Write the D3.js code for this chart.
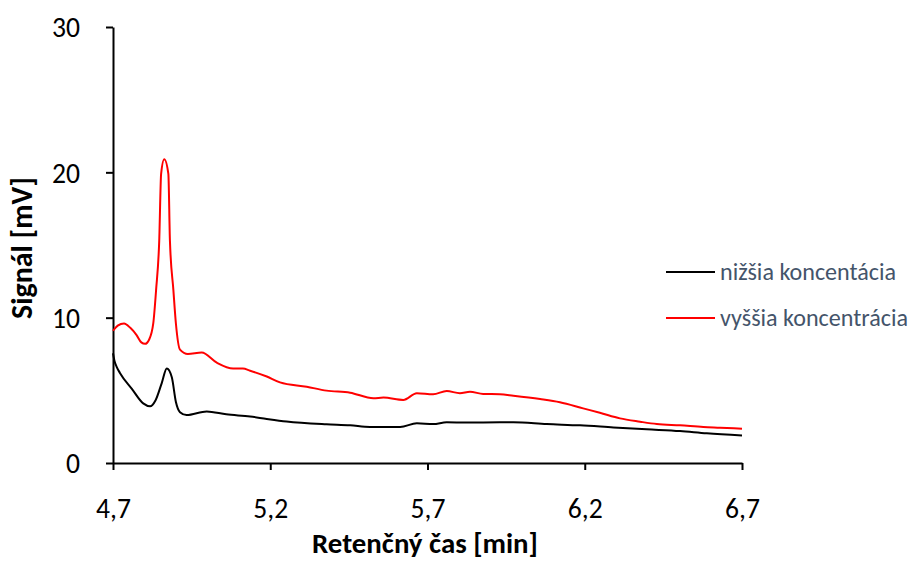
<!DOCTYPE html>
<html><head><meta charset="utf-8">
<script src="https://cdn.jsdelivr.net/npm/d3@7"></script>
<style>body{margin:0;background:#fff}svg{display:block}</style>
</head><body>
<svg id="c" width="913" height="565"></svg>
<script>
const xTicks = [4.7, 5.2, 5.7, 6.2, 6.7];
const yTicks = [0, 10, 20, 30];
const seriesNames = ["nižšia koncentácia", "vyššia koncentrácia"];
const seriesColors = ["#000000", "#ff0000"];
const lowT = [4.700,4.705,4.712,4.722,4.760,4.796,4.818,4.835,4.855,4.871,4.887,4.900,4.913,4.934,4.998,5.060,5.136,5.189,5.252,5.379,5.454,5.517,5.613,5.666,5.718,5.761,5.824,5.930,5.973,6.079,6.185,6.291,6.397,6.503,6.588,6.700];
const lowV = [7.55,7.0,6.6,6.2,5.1,4.1,3.9,4.3,5.5,6.5,5.9,4.2,3.5,3.3,3.55,3.35,3.2,3.03,2.85,2.66,2.59,2.48,2.48,2.73,2.68,2.8,2.78,2.8,2.8,2.68,2.59,2.45,2.32,2.2,2.04,1.9];
const highT = [4.700,4.715,4.735,4.755,4.775,4.790,4.802,4.815,4.828,4.837,4.847,4.853,4.863,4.876,4.881,4.892,4.900,4.913,4.938,4.982,5.030,5.082,5.113,5.136,5.189,5.231,5.316,5.379,5.454,5.528,5.560,5.623,5.666,5.718,5.761,5.803,5.835,5.877,5.930,5.973,6.058,6.121,6.195,6.248,6.312,6.376,6.429,6.503,6.577,6.630,6.700];
const highV = [9.1,9.45,9.6,9.3,8.8,8.3,8.2,8.5,9.6,11.9,15.3,19.9,20.9,19.9,15.3,11.9,9.6,7.8,7.5,7.6,6.9,6.5,6.5,6.35,5.95,5.55,5.25,4.98,4.84,4.45,4.5,4.34,4.8,4.73,4.95,4.8,4.9,4.75,4.73,4.63,4.4,4.18,3.76,3.46,3.07,2.84,2.68,2.59,2.48,2.43,2.36];

const svg = d3.select("#c");
const x = d3.scaleLinear().domain([4.7, 6.7]).range([113, 742]);
const y = d3.scaleLinear().domain([0, 30]).range([463, 27]);
const font = "Carlito, Calibri, Lato, 'Open Sans', sans-serif";

// size a text so its width matches the reference width
function fit(sel, target) {
  const n = sel.node();
  const w = n.getComputedTextLength();
  const fs = parseFloat(getComputedStyle(n).fontSize);
  sel.style("font-size", (fs * target / w).toFixed(2) + "px");
  return fs * target / w;
}

const xAxis = svg.append("g").attr("transform","translate(0,463)")
  .call(d3.axisBottom(x).tickValues(xTicks).tickSize(7).tickSizeOuter(0)
  .tickFormat(d => d3.format(".1f")(d).replace(".", ",")));
const yAxis = svg.append("g").attr("transform","translate(113,0)")
  .call(d3.axisLeft(y).tickValues(yTicks).tickSize(7).tickSizeOuter(0));
[xAxis, yAxis].forEach(g => {
  g.attr("font-size", null).attr("font-family", null);
  g.selectAll("path,line").attr("stroke","#000").attr("stroke-width",2);
  g.selectAll("text").style("font-family",font).style("font-size","24px").attr("fill","#000");
});
// measure on one label ("30") and apply to all tick labels
const probe = yAxis.selectAll("text").filter(d => d === 30);
const tickFs = fit(probe, 28);
svg.selectAll(".tick text").style("font-size", tickFs.toFixed(2) + "px");
xAxis.selectAll("text").attr("dy",0).attr("y",55);
yAxis.selectAll("text").attr("x",-33).attr("dy","0.35em");

const line = d3.line().x(d => x(d[0])).y(d => y(d[1])).curve(d3.curveMonotoneX);
const data = [d3.zip(lowT, lowV), d3.zip(highT, highV)];
data.forEach((d,i) => {
  svg.append("path").datum(d).attr("d", line).attr("fill","none")
    .attr("stroke", seriesColors[i]).attr("stroke-width",2).attr("stroke-linejoin","round");
});

const xt = svg.append("text").attr("x",425).attr("y",553).attr("text-anchor","middle")
  .style("font-family",font).style("font-size","26px").attr("font-weight","bold").text("Retenčný čas [min]");
fit(xt, 226);
const yt = svg.append("text").attr("transform","translate(32,248) rotate(-90)").attr("text-anchor","middle")
  .style("font-family",font).style("font-size","26px").attr("font-weight","bold").text("Signál [mV]");
fit(yt, 142);

const leg = svg.append("g");
const legT = [];
seriesNames.forEach((n,i) => {
  const yy = 272 + i*46;
  leg.append("line").attr("x1",666).attr("x2",715).attr("y1",yy).attr("y2",yy)
    .attr("stroke",seriesColors[i]).attr("stroke-width",2);
  legT.push(leg.append("text").attr("x",720).attr("y",yy).attr("dy","0.35em")
    .style("font-family",font).style("font-size","24px").attr("fill","#44546a").text(n));
});
const lfs = fit(legT[1], 188);
legT[0].style("font-size", lfs.toFixed(2) + "px");
</script>
</body></html>
